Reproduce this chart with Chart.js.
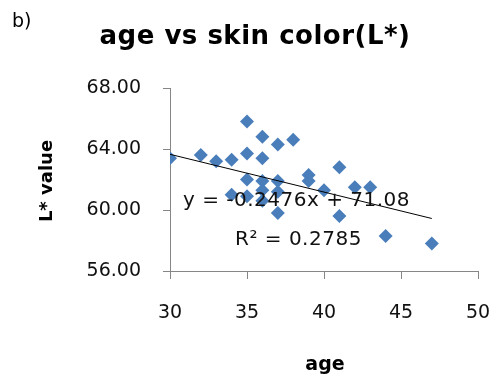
<!DOCTYPE html>
<html>
<head>
<meta charset="utf-8">
<script src="https://cdn.jsdelivr.net/npm/chart.js@4.4.0/dist/chart.umd.min.js"></script>
<style>
html,body{margin:0;padding:0;background:#fff;}
#wrap{width:496px;height:379px;position:relative;}
</style>
</head>
<body>
<div id="wrap"><canvas id="c" width="496" height="379"></canvas></div>
<script>
// ---- data ----
const ages = [30, 32, 33, 34, 34, 35, 35, 35, 35, 36, 36, 36, 36, 36, 37, 37, 37, 37, 38, 39, 39, 40, 41, 41, 42, 43, 44, 47];
const lValues = [63.4, 63.6, 63.2, 63.3, 61.0, 65.8, 63.7, 62.0, 60.9, 64.8, 63.4, 61.9, 61.3, 60.6, 64.3, 61.9, 59.8, 61.2, 64.6, 62.3, 61.9, 61.3, 62.8, 59.6, 61.5, 61.5, 58.3, 57.8];
const trendSlope = -0.2476;
const trendIntercept = 71.08;
const rSquared = 0.2785;
const xTicks = [30, 35, 40, 45, 50];
const yTicks = [56, 60, 64, 68];
const chartTitle = "age vs skin color(L*)";
const panelLabel = "b)";
const xTitle = "age";
const yTitle = "L* value";

const xMin = Math.min(...ages), xMax = Math.max(...ages);
const trendPoints = [xMin, xMax].map(x => ({x: x, y: trendSlope * x + trendIntercept}));
const scatterPoints = ages.map((a, i) => ({x: a, y: lValues[i]}));

const FONT = "'DejaVu Sans', sans-serif";

const textPlugin = {
  id: 'texts',
  afterDraw(chart) {
    const ctx = chart.ctx;
    ctx.save();
    ctx.fillStyle = '#000';
    ctx.textBaseline = 'alphabetic';
    ctx.font = "19px " + FONT;
    ctx.textAlign = 'left';
    ctx.fillText(panelLabel, 12, 27);
    ctx.font = "bold 26px " + FONT;
    ctx.textAlign = 'center';
    ctx.letterSpacing = '0.5px';
    ctx.fillText(chartTitle, 255, 44);
    ctx.letterSpacing = '0px';
    ctx.font = "bold 19px " + FONT;
    ctx.fillText(xTitle, 325, 370);
    ctx.save();
    ctx.font = "bold 18px " + FONT;
    ctx.translate(52, 181);
    ctx.rotate(-Math.PI / 2);
    ctx.textAlign = 'center';
    ctx.fillText(yTitle, 0, 0);
    ctx.restore();
    ctx.font = "20px " + FONT;
    ctx.fillStyle = '#111';
    ctx.textAlign = 'left';
    ctx.letterSpacing = '0.5px';
    const sign = trendIntercept >= 0 ? '+' : '-';
    const eq = 'y = ' + trendSlope.toFixed(4) + 'x ' + sign + ' ' + Math.abs(trendIntercept).toFixed(2);
    ctx.fillText(eq, 183, 206);
    ctx.fillText('R\u00B2 = ' + rSquared.toFixed(4), 235, 245);
    ctx.restore();
  }
};

new Chart(document.getElementById('c'), {
  type: 'scatter',
  data: {
    datasets: [
      {
        label: 'trend',
        data: trendPoints,
        showLine: true,
        borderColor: '#000',
        borderWidth: 1,
        pointRadius: 0,
        fill: false
      },
      {
        label: 'L*',
        data: scatterPoints,
        pointStyle: 'rectRot',
        pointRadius: 7,
        pointBackgroundColor: '#4A7EBB',
        pointBorderColor: '#4A7EBB',
        pointBorderWidth: 0
      }
    ]
  },
  options: {
    responsive: false,
    animation: false,
    events: [],
    layout: {padding: {top: 88, right: 18, left: 0, bottom: 0}},
    plugins: {legend: {display: false}, tooltip: {enabled: false}, title: {display: false}},
    scales: {
      x: {
        type: 'linear',
        min: 30, max: 50,
        afterBuildTicks(scale) { scale.ticks = xTicks.map(v => ({value: v})); },
        afterFit(scale) { scale.height = 108; scale.paddingLeft = 0; scale.paddingRight = 0; },
        border: {display: true, color: '#868686', width: 1},
        grid: {display: true, drawOnChartArea: false, drawTicks: true, tickLength: 8, color: '#868686'},
        ticks: {padding: 23, color: '#111', font: {family: FONT, size: 19}, maxRotation: 0}
      },
      y: {
        type: 'linear',
        min: 56, max: 68,
        afterBuildTicks(scale) { scale.ticks = yTicks.map(v => ({value: v})); },
        afterFit(scale) { scale.width = 170; scale.paddingTop = 0; scale.paddingBottom = 0; },
        border: {display: true, color: '#868686', width: 1},
        grid: {display: true, drawOnChartArea: false, drawTicks: true, tickLength: 7, color: '#868686'},
        ticks: {padding: 22, color: '#111', font: {family: FONT, size: 19}, callback: v => Number(v).toFixed(2)}
      }
    }
  },
  plugins: [textPlugin]
});
</script>
</body>
</html>
